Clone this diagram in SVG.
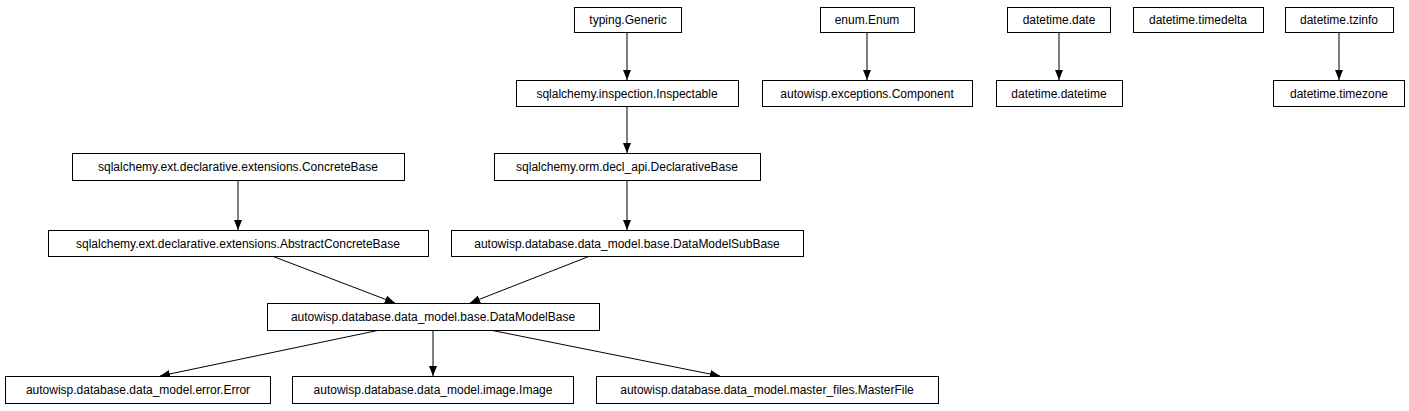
<svg xmlns="http://www.w3.org/2000/svg" width="1409" height="411" viewBox="0 0 1409 411">
<style>
rect{fill:#fff;stroke:#000;stroke-width:1}
text{font-family:"Liberation Sans",Arial,sans-serif;font-size:12px;text-anchor:middle;fill:#000}
.e line{stroke:#000;stroke-width:1}
</style>
<defs><marker id="a" markerWidth="10" markerHeight="8" refX="10" refY="4" orient="auto" markerUnits="userSpaceOnUse"><path d="M0,0L10,4L0,8z" fill="#000"/></marker></defs>
<rect width="1409" height="411" style="stroke:none"/>
<g class="e">
<line x1="627" y1="32" x2="627" y2="80" marker-end="url(#a)"/>
<line x1="867" y1="32" x2="867" y2="80" marker-end="url(#a)"/>
<line x1="1059" y1="32" x2="1059" y2="80" marker-end="url(#a)"/>
<line x1="1339" y1="32" x2="1339" y2="80" marker-end="url(#a)"/>
<line x1="627" y1="106" x2="627" y2="153" marker-end="url(#a)"/>
<line x1="238" y1="180" x2="238" y2="230" marker-end="url(#a)"/>
<line x1="627" y1="180" x2="627" y2="230" marker-end="url(#a)"/>
<line x1="272" y1="256" x2="395" y2="303" marker-end="url(#a)"/>
<line x1="590" y1="256" x2="470" y2="303" marker-end="url(#a)"/>
<line x1="380" y1="330" x2="160" y2="376" marker-end="url(#a)"/>
<line x1="433" y1="330" x2="433" y2="376" marker-end="url(#a)"/>
<line x1="490" y1="330" x2="720" y2="376" marker-end="url(#a)"/>
</g>
<g id="n1"><rect x="574.500" y="7.500" width="107" height="25"/><text x="628" y="24">typing.Generic</text></g>
<g id="n2"><rect x="820.500" y="7.500" width="94" height="25"/><text x="867" y="24">enum.Enum</text></g>
<g id="n3"><rect x="1007.500" y="7.500" width="103" height="25"/><text x="1059" y="24">datetime.date</text></g>
<g id="n4"><rect x="1133.500" y="7.500" width="130" height="25"/><text x="1198" y="24">datetime.timedelta</text></g>
<g id="n5"><rect x="1285.500" y="7.500" width="108" height="25"/><text x="1339" y="24">datetime.tzinfo</text></g>
<g id="n6"><rect x="516.500" y="80.500" width="222" height="26"/><text x="627" y="98">sqlalchemy.inspection.Inspectable</text></g>
<g id="n7"><rect x="762.500" y="80.500" width="210" height="26"/><text x="867" y="98">autowisp.exceptions.Component</text></g>
<g id="n8"><rect x="996.500" y="80.500" width="126" height="26"/><text x="1059" y="98">datetime.datetime</text></g>
<g id="n9"><rect x="1273.500" y="80.500" width="131" height="26"/><text x="1339" y="98">datetime.timezone</text></g>
<g id="n10"><rect x="72.500" y="153.500" width="332" height="27"/><text x="238" y="171">sqlalchemy.ext.declarative.extensions.ConcreteBase</text></g>
<g id="n11"><rect x="494.500" y="153.500" width="266" height="27"/><text x="627" y="171">sqlalchemy.orm.decl_api.DeclarativeBase</text></g>
<g id="n12"><rect x="48.500" y="230.500" width="380" height="26"/><text x="238" y="248">sqlalchemy.ext.declarative.extensions.AbstractConcreteBase</text></g>
<g id="n13"><rect x="451.500" y="230.500" width="352" height="26"/><text x="627" y="248">autowisp.database.data_model.base.DataModelSubBase</text></g>
<g id="n14"><rect x="267.500" y="303.500" width="332" height="27"/><text x="433" y="321">autowisp.database.data_model.base.DataModelBase</text></g>
<g id="n15"><rect x="5.500" y="376.500" width="265" height="27"/><text x="138" y="394">autowisp.database.data_model.error.Error</text></g>
<g id="n16"><rect x="292.500" y="376.500" width="281" height="27"/><text x="433" y="394">autowisp.database.data_model.image.Image</text></g>
<g id="n17"><rect x="596.500" y="376.500" width="342" height="27"/><text x="767" y="394">autowisp.database.data_model.master_files.MasterFile</text></g>
</svg>
